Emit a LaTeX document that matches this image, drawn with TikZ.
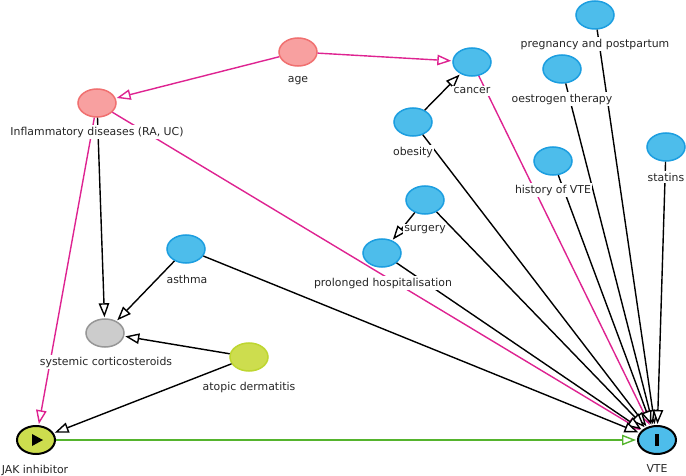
\documentclass[tikz,border=0pt]{standalone}
\usepackage{fontspec}
\setmainfont{DejaVu Sans}
\usetikzlibrary{arrows.meta,shapes.geometric}
\definecolor{nblue}{RGB}{77,189,235}
\definecolor{nbluedk}{RGB}{28,158,224}
\definecolor{npink}{RGB}{248,160,160}
\definecolor{npinkdk}{RGB}{240,112,112}
\definecolor{ngrey}{RGB}{204,204,204}
\definecolor{ngreydk}{RGB}{150,150,150}
\definecolor{ngreen}{RGB}{205,221,78}
\definecolor{ngreendk}{RGB}{190,214,48}
\definecolor{emag}{RGB}{222,35,145}
\definecolor{egreen}{RGB}{85,180,45}
\tikzset{
  nd/.style={ellipse, minimum width=38pt, minimum height=28pt, inner sep=0pt, line width=1.5pt},
  bluen/.style={nd, draw=nbluedk, fill=nblue},
  pinkn/.style={nd, draw=npinkdk, fill=npink},
  greyn/.style={nd, draw=ngreydk, fill=ngrey},
  greenn/.style={nd, draw=ngreendk, fill=ngreen},
  lbl/.style={fill=white, inner sep=1.5pt, font=\fontsize{10.9pt}{12pt}\selectfont, text=black!85},
  edge/.style={line width=1.4pt, -{Triangle[length=14pt,width=10.5pt,fill=white]}, shorten >=1pt},
  blk/.style={edge, draw=black},
  mag/.style={edge, draw=emag},
  grn/.style={edge, draw=egreen},
}
\begin{document}
\begin{tikzpicture}[x=1pt,y=-1pt]
\useasboundingbox (0,0) rectangle (686,476);
% nodes
\node[pinkn] (age) at (298,52) {};
\node[pinkn] (infl) at (97,103) {};
\node[bluen] (cancer) at (472,62) {};
\node[bluen] (preg) at (595,15) {};
\node[bluen] (oest) at (562,69) {};
\node[bluen] (obes) at (413,122) {};
\node[bluen] (hist) at (553,161) {};
\node[bluen] (stat) at (666,147) {};
\node[bluen] (surg) at (425,200) {};
\node[bluen] (prol) at (382,253) {};
\node[bluen] (asth) at (186,249) {};
\node[greyn] (cort) at (105,333) {};
\node[greenn] (atop) at (249,357) {};
\node[nd, draw=black, line width=2pt, fill=ngreen] (jak) at (36,440) {};
\node[nd, draw=black, line width=2pt, fill=nblue] (vte) at (657,440) {};
\fill (jak.center) ++(-4,-6) -- ++(11,6) -- ++(-11,6) -- cycle;
\fill (vte.center) ++(-2,-6) rectangle ++(4,12);
% edges
\draw[mag] (age) -- (infl);
\draw[mag] (age) -- (cancer);
\draw[blk] (infl) -- (cort);
\draw[mag] (infl) -- (jak);
\draw[mag] (infl) -- (vte);
\draw[mag] (cancer) -- (vte);
\draw[blk] (obes) -- (cancer);
\draw[blk] (obes) -- (vte);
\draw[blk] (preg) -- (vte);
\draw[blk] (oest) -- (vte);
\draw[blk] (hist) -- (vte);
\draw[blk] (stat) -- (vte);
\draw[blk] (surg) -- (prol);
\draw[blk] (surg) -- (vte);
\draw[blk] (prol) -- (vte);
\draw[blk] (asth) -- (cort);
\draw[blk] (asth) -- (vte);
\draw[blk] (atop) -- (cort);
\draw[blk] (atop) -- (jak);
\draw[grn] (jak) -- (vte);
% labels
\node[lbl] (lage) at (298,81) {age};
\node[lbl] (linfl) at (97,132) {Inflammatory diseases (RA, UC)};
\node[lbl] (lcancer) at (472,91) {cancer};
\node[lbl] (lpreg) at (595,44) {pregnancy and postpartum};
\node[lbl] (loest) at (562,99) {oestrogen therapy};
\node[lbl] (lobes) at (413,152) {obesity};
\node[lbl] (lhist) at (553,190) {history of VTE};
\node[lbl] (lstat) at (666,177) {statins};
\node[lbl] (lsurg) at (425,230) {surgery};
\node[lbl] (lprol) at (383,283) {prolonged hospitalisation};
\node[lbl] (lasth) at (187,279) {asthma};
\node[lbl] (lcort) at (106,362) {systemic corticosteroids};
\node[lbl] (latop) at (249,387) {atopic dermatitis};
\node[lbl] (ljak) at (35,470) {JAK inhibitor};
\node[lbl] (lvte) at (657,469) {VTE};
\end{tikzpicture}
\end{document}
